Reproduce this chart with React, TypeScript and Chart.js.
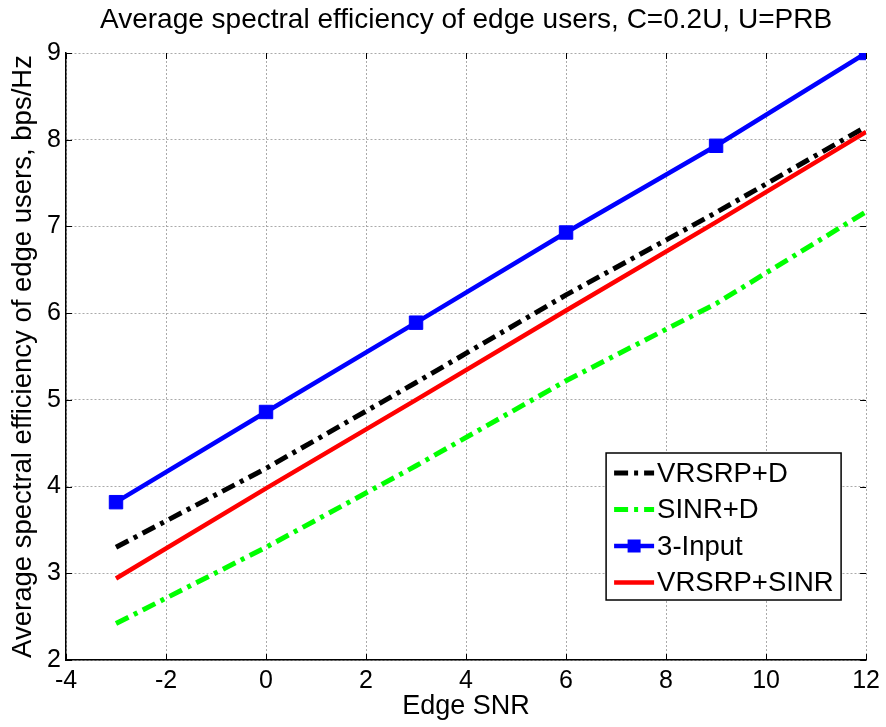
import React, { useEffect, useRef } from 'react';
import { Chart, registerables } from 'chart.js';

Chart.register(...registerables);

const snr = [-3, 0, 3, 6, 9, 12];
const vrsrpD = [3.3, 4.21, 5.2, 6.21, 7.16, 8.15];
const sinrD = [2.42, 3.3, 4.24, 5.22, 6.11, 7.17];
const threeInput = [3.82, 4.86, 5.89, 6.93, 7.93, 9.0];
const vrsrpSinr = [2.94, 3.98, 5.0, 6.03, 7.05, 8.09];
const seriesNames = ['VRSRP+D', 'SINR+D', '3-Input', 'VRSRP+SINR'];

const titleText = 'Average spectral efficiency of edge users, C=0.2U, U=PRB';
const xTitle = 'Edge SNR';
const yTitle = 'Average spectral efficiency of edge users, bps/Hz';

const FONT = '"Liberation Sans", Arial, Helvetica, sans-serif';
const DASHDOT = [14, 6, 4, 6];

const toPoints = (ys: number[]) => snr.map((x, i) => ({ x, y: ys[i] }));

const innerTicks = {
  id: 'innerTicks',
  beforeDatasetsDraw(chart: any) {
    const { ctx, chartArea, scales } = chart;
    const len = 6;
    ctx.save();
    ctx.strokeStyle = '#000';
    ctx.lineWidth = 1;
    scales.x.ticks.forEach((t: any) => {
      const px = Math.round(scales.x.getPixelForValue(t.value)) + 0.5;
      ctx.beginPath();
      ctx.moveTo(px, chartArea.bottom);
      ctx.lineTo(px, chartArea.bottom - len);
      ctx.moveTo(px, chartArea.top);
      ctx.lineTo(px, chartArea.top + len);
      ctx.stroke();
    });
    scales.y.ticks.forEach((t: any) => {
      const py = Math.round(scales.y.getPixelForValue(t.value)) + 0.5;
      ctx.beginPath();
      ctx.moveTo(chartArea.left, py);
      ctx.lineTo(chartArea.left + len, py);
      ctx.moveTo(chartArea.right, py);
      ctx.lineTo(chartArea.right - len, py);
      ctx.stroke();
    });
    ctx.restore();
  },
};

const boxLegend = {
  id: 'boxLegend',
  afterDraw(chart: any) {
    const { ctx, chartArea } = chart;
    const w = 235;
    const h = 147;
    const right = chartArea.right - 25;
    const bottom = chartArea.bottom - 60;
    const left = right - w;
    const top = bottom - h;
    ctx.save();
    ctx.fillStyle = '#fff';
    ctx.fillRect(left, top, w, h);
    ctx.strokeStyle = '#000';
    ctx.lineWidth = 1.5;
    ctx.strokeRect(left, top, w, h);
    ctx.font = `27.5px ${FONT}`;
    ctx.textBaseline = 'middle';
    ctx.textAlign = 'left';
    chart.data.datasets.forEach((ds: any, i: number) => {
      const cy = top + 20 + i * 36.5;
      ctx.save();
      ctx.strokeStyle = ds.borderColor;
      ctx.lineWidth = ds.borderWidth;
      ctx.setLineDash(ds.borderDash || []);
      ctx.beginPath();
      ctx.moveTo(left + 8, cy);
      ctx.lineTo(left + 48, cy);
      ctx.stroke();
      ctx.restore();
      if (ds.pointRadius > 0) {
        ctx.fillStyle = ds.borderColor;
        ctx.fillRect(left + 28 - 6.5, cy - 6.5, 13, 13);
      }
      ctx.fillStyle = '#000';
      ctx.fillText(ds.label, left + 51, cy + 1);
    });
    ctx.restore();
  },
};

export default function App() {
  const ref = useRef<HTMLCanvasElement>(null);

  useEffect(() => {
    document.body.style.margin = '0';
    const canvas = ref.current!;
    const chart = new Chart(canvas, {
      type: 'line',
      data: {
        datasets: [
          {
            label: seriesNames[0],
            data: toPoints(vrsrpD),
            borderColor: '#000000',
            backgroundColor: '#000000',
            borderWidth: 5,
            borderDash: DASHDOT,
            pointRadius: 0,
            order: 2,
          },
          {
            label: seriesNames[1],
            data: toPoints(sinrD),
            borderColor: '#00ff00',
            backgroundColor: '#00ff00',
            borderWidth: 5,
            borderDash: DASHDOT,
            pointRadius: 0,
            order: 3,
          },
          {
            label: seriesNames[2],
            data: toPoints(threeInput),
            borderColor: '#0000ff',
            backgroundColor: '#0000ff',
            borderWidth: 4.5,
            pointStyle: 'rect',
            pointRadius: 9.5,
            pointBorderWidth: 1,
            order: 0,
          },
          {
            label: seriesNames[3],
            data: toPoints(vrsrpSinr),
            borderColor: '#ff0000',
            backgroundColor: '#ff0000',
            borderWidth: 4.5,
            pointRadius: 0,
            order: 1,
          },
        ],
      },
      options: {
        animation: false,
        responsive: false,
        devicePixelRatio: 1,
        layout: { padding: { right: 19, left: 0, top: 0, bottom: 0 } },
        plugins: {
          legend: { display: false },
          tooltip: { enabled: false },
          title: {
            display: true,
            text: titleText,
            fullSize: false,
            color: '#000',
            font: { family: FONT, size: 28, weight: 'normal' },
            padding: { top: 3, bottom: 16.4 },
          },
        },
        scales: {
          x: {
            type: 'linear',
            min: -4,
            max: 12,
            ticks: {
              stepSize: 2,
              color: '#000',
              padding: 6,
              font: { family: FONT, size: 25 },
              autoSkip: false,
              maxRotation: 0,
            },
            grid: { color: '#aaa', lineWidth: 1, drawTicks: false },
            border: { display: true, color: '#000', width: 1.5, dash: [2, 2] },
            title: {
              display: true,
              text: xTitle,
              color: '#000',
              font: { family: FONT, size: 27 },
              padding: { top: 0, bottom: 4 },
            },
            afterFit: (s: any) => {
              s.height = 67;
            },
          },
          y: {
            type: 'linear',
            min: 2,
            max: 9,
            ticks: {
              stepSize: 1,
              color: '#000',
              padding: 5,
              font: { family: FONT, size: 25 },
            },
            grid: { color: '#aaa', lineWidth: 1, drawTicks: false },
            border: { display: true, color: '#000', width: 1.5, dash: [2, 2] },
            title: {
              display: true,
              text: yTitle,
              color: '#000',
              font: { family: FONT, size: 27.5 },
              padding: { top: 7, bottom: 0 },
            },
            afterFit: (s: any) => {
              s.width = 66;
            },
          },
        },
      },
      plugins: [innerTicks, boxLegend],
    });
    return () => chart.destroy();
  }, []);

  return (
    <div style={{ position: 'absolute', left: 0, top: 0, width: 886, height: 727, background: '#fff' }}>
      <canvas ref={ref} width={886} height={727} />
    </div>
  );
}
